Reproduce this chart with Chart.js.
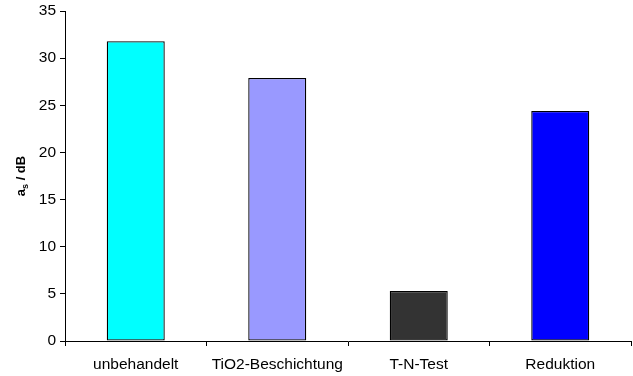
<!DOCTYPE html>
<html>
<head>
<meta charset="utf-8">
<script src="https://cdn.jsdelivr.net/npm/chart.js@4.4.0/dist/chart.umd.min.js"></script>
<style>
  html, body { margin: 0; padding: 0; background: #fff; }
  #wrap { width: 633px; height: 376px; position: relative; }
</style>
</head>
<body>
<div id="wrap"><canvas id="chart"></canvas></div>
<script>
// data
const categories = ['unbehandelt', 'TiO2-Beschichtung', 'T-N-Test', 'Reduktion'];
const values = [31.8, 27.9, 5.3, 24.4];
const barColors = ['#00FFFF', '#9999FF', '#333333', '#0000FF'];
const yTicks = [0, 5, 10, 15, 20, 25, 30, 35];

const FONT = 'Liberation Sans, Arial, sans-serif';

// y title "a_s / dB" with a real subscript, drawn as canvas text
const yTitle = {
  id: 'yTitle',
  afterDraw(chart) {
    const ctx = chart.ctx;
    const a = chart.chartArea;
    ctx.save();
    ctx.translate(25, (a.top + a.bottom) / 2);
    ctx.rotate(-Math.PI / 2);
    ctx.fillStyle = '#000';
    ctx.textBaseline = 'alphabetic';
    ctx.font = 'bold 13px ' + FONT;
    const w1 = ctx.measureText('a').width;
    ctx.font = 'bold 9px ' + FONT;
    const w2 = ctx.measureText('s').width;
    ctx.font = 'bold 13px ' + FONT;
    const w3 = ctx.measureText(' / dB').width;
    let x = -(w1 + w2 + w3) / 2;
    ctx.fillText('a', x, 0);
    x += w1;
    ctx.font = 'bold 9px ' + FONT;
    ctx.fillText('s', x, 3);
    x += w2;
    ctx.font = 'bold 13px ' + FONT;
    ctx.fillText(' / dB', x, 0);
    ctx.restore();
  }
};

new Chart(document.getElementById('chart'), {
  type: 'bar',
  data: {
    labels: categories,
    datasets: [{
      data: values,
      backgroundColor: barColors,
      borderColor: '#000',
      borderWidth: 1.3,
      borderSkipped: false,
      categoryPercentage: 1,
      barPercentage: 0.41
    }]
  },
  options: {
    responsive: true,
    maintainAspectRatio: false,
    animation: false,
    layout: { padding: { top: 11, right: 2, left: 0, bottom: 0 } },
    plugins: { legend: { display: false }, tooltip: { enabled: false } },
    scales: {
      x: {
        offset: true,
        grid: { offset: true, drawOnChartArea: false, drawTicks: true, tickLength: 5, color: '#000', lineWidth: 1 },
        border: { color: '#000', width: 1 },
        ticks: { color: '#000', font: { family: FONT, size: 15.5 }, padding: 9, maxRotation: 0 },
        afterFit(s) { s.height = 35; s.paddingLeft = 0; s.paddingRight = 0; }
      },
      y: {
        min: 0,
        max: 35,
        afterBuildTicks(s) { s.ticks = yTicks.map(v => ({ value: v })); },
        grid: { drawOnChartArea: false, drawTicks: true, tickLength: 5, color: '#000', lineWidth: 1 },
        border: { color: '#000', width: 1 },
        ticks: { color: '#000', font: { family: FONT, size: 15.5 }, padding: 4 },
        afterFit(s) { s.width = 65; s.paddingTop = 0; s.paddingBottom = 0; }
      }
    }
  },
  plugins: [yTitle]
});
</script>
</body>
</html>
